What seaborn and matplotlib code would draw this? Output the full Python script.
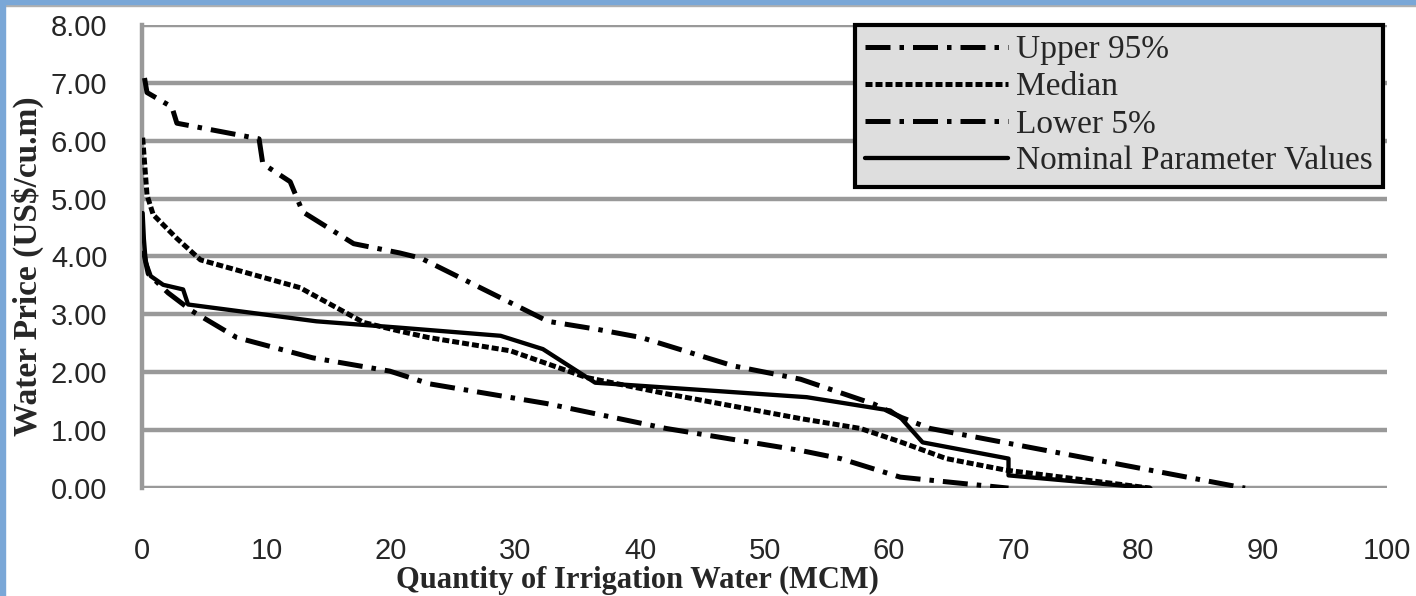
import matplotlib
matplotlib.use('Agg')
import matplotlib.pyplot as plt
from matplotlib.patches import Rectangle
import seaborn as sns
import pandas as pd

# demand curves (x = MCM, y = US$/cu.m)
upper_x = [0.2, 0.4, 2.4, 2.8, 9.4, 9.7, 11.9, 12.9, 17.0, 20.7, 22.4, 32.6, 36.6, 40.1, 47.5, 52.9, 58.8, 61.0, 63.3, 88.6]
upper_y = [7.08, 6.83, 6.58, 6.30, 6.03, 5.60, 5.29, 4.77, 4.22, 4.06, 3.97, 2.88, 2.74, 2.60, 2.11, 1.88, 1.45, 1.22, 1.03, 0.0]

median_x = [0.05, 0.4, 0.9, 2.8, 4.7, 12.7, 13.2, 17.8, 20.7, 23.0, 29.6, 35.7, 42.1, 52.9, 57.7, 60.9, 64.6, 69.4, 81.0]
median_y = [6.05, 5.06, 4.72, 4.31, 3.94, 3.46, 3.40, 2.86, 2.71, 2.60, 2.37, 1.91, 1.63, 1.20, 1.03, 0.80, 0.51, 0.31, 0.0]

lower_x = [0.1, 0.5, 2.1, 4.0, 7.6, 13.7, 19.9, 23.1, 32.5, 42.1, 52.9, 56.1, 60.9, 69.6]
lower_y = [4.10, 3.70, 3.37, 3.06, 2.60, 2.25, 2.02, 1.80, 1.46, 1.03, 0.65, 0.51, 0.19, 0.0]

nominal_x = [0.05, 0.15, 0.3, 0.7, 1.7, 3.3, 3.7, 14.0, 20.7, 28.8, 32.2, 36.4, 53.4, 60.1, 61.0, 62.7, 69.6, 69.6, 81.0]
nominal_y = [4.75, 4.30, 3.90, 3.66, 3.51, 3.43, 3.17, 2.88, 2.77, 2.63, 2.40, 1.82, 1.57, 1.34, 1.20, 0.79, 0.51, 0.22, 0.0]

x_ticks = list(range(0, 101, 10))
y_ticks = [0, 1, 2, 3, 4, 5, 6, 7, 8]

sns.set_style('white')
plt.rcParams['font.family'] = ['Liberation Sans', 'DejaVu Sans']

fig = plt.figure(figsize=(14.16, 5.96), dpi=100)
ax = fig.add_axes([0.1003, 0.181, 0.8792, 0.7775])

grid_col = '#999999'
dashdot = (0, (5, 1.8, 0.9, 1.8))

series = [
    ('Upper 95%', upper_x, upper_y, dashdot, 3.6),
    ('Median', median_x, median_y, (0, (1.4, 0.6)), 3.6),
    ('Lower 5%', lower_x, lower_y, dashdot, 3.6),
    ('Nominal Parameter Values', nominal_x, nominal_y, '-', 3.1),
]
for name, xs, ys, ls, lw in series:
    df = pd.DataFrame({'x': xs, 'y': ys})
    sns.lineplot(data=df, x='x', y='y', ax=ax, color='black', lw=lw,
                 linestyle=ls, estimator=None, sort=False, label=name, zorder=3)

ax.set_xlim(0, 100)
ax.set_ylim(0, 8)
ax.set_xticks(x_ticks)
ax.set_yticks(y_ticks)
ax.set_yticklabels([f'{v:.2f}' for v in y_ticks])
ax.yaxis.grid(True, color=grid_col, lw=3.2)
ax.xaxis.grid(False)
ax.set_axisbelow(True)
for s in ['top', 'right', 'bottom']:
    ax.spines[s].set_visible(False)
ax.spines['left'].set_color(grid_col)
ax.spines['left'].set_linewidth(3.2)
ax.tick_params(axis='both', length=0, labelsize=21)
ax.tick_params(axis='x', pad=35)
ax.tick_params(axis='y', pad=25)

ax.set_xlabel('Quantity of Irrigation Water (MCM)', family='Liberation Serif',
              fontweight='bold', fontsize=22)
ax.xaxis.set_label_coords(0.398, -0.168)
ax.set_ylabel('Water Price (US$/cu.m)', family='Liberation Serif',
              fontweight='bold', fontsize=24)
ax.yaxis.set_label_coords(-0.079, 0.479)

leg = ax.legend(loc='upper right', bbox_to_anchor=(0.997, 1.0), frameon=True,
                fancybox=False, framealpha=1, facecolor='#dedede', edgecolor='black',
                prop={'family': 'Liberation Serif', 'size': 24},
                handlelength=4.3, handletextpad=0.25, labelspacing=0.2,
                borderpad=0.3, borderaxespad=0)
leg.get_frame().set_linewidth(3)

# blue window frame on top and left
fig.add_artist(Rectangle((0, 1 - 4 / 596), 1, 4 / 596, transform=fig.transFigure,
                         color='#7aa7d7', zorder=10))
fig.add_artist(Rectangle((0, 1 - 6 / 596), 1, 2 / 596, transform=fig.transFigure,
                         color='#b0b0b0', zorder=9))
fig.add_artist(Rectangle((0, 0), 5 / 1416, 1, transform=fig.transFigure,
                         color='#7aa7d7', zorder=10))

fig.savefig('out.png', dpi=100)
